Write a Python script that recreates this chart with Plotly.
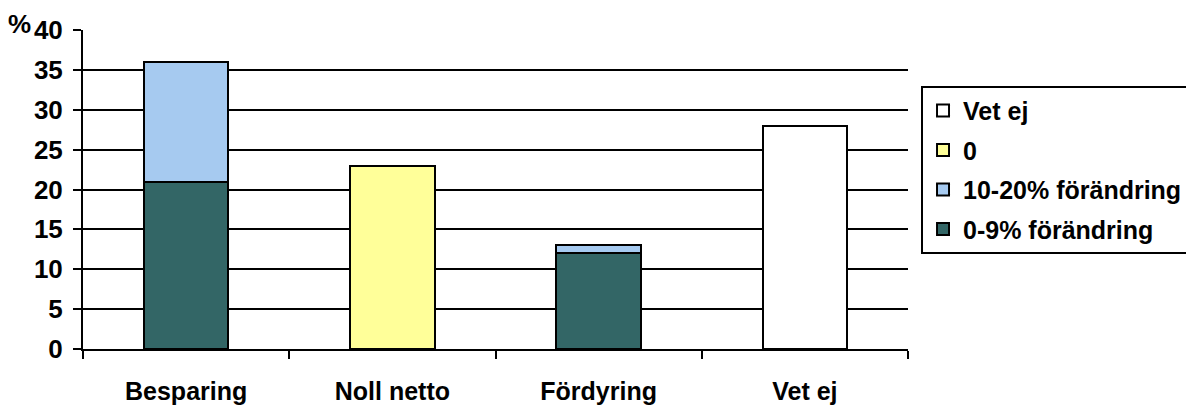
import plotly.graph_objects as go

categories = ["Besparing", "Noll netto", "Fördyring", "Vet ej"]
s_0_9 = [21, None, 12, None]
s_10_20 = [15, None, 1, None]
s_noll = [None, 23, None, None]
s_vetej = [None, None, None, 28]
y_ticks = [0, 5, 10, 15, 20, 25, 30, 35, 40]

series = [
    ("0-9% förändring", s_0_9, "#336666", 4),
    ("10-20% förändring", s_10_20, "#A6CAF0", 3),
    ("0", s_noll, "#FFFF99", 2),
    ("Vet ej", s_vetej, "#FFFFFF", 1),
]

fig = go.Figure()
for name, vals, col, rank in series:
    fig.add_trace(go.Bar(
        x=categories, y=vals, name=name, legendgroup=name, legendrank=rank,
        marker=dict(color=col, line=dict(color="black", width=2)),
    ))

font_family = "Liberation Sans, Arial, sans-serif"
fig.update_layout(
    barmode="stack",
    bargap=0.59,
    width=1186, height=407,
    margin=dict(l=83, r=278, t=30, b=58, autoexpand=False),
    plot_bgcolor="white", paper_bgcolor="white",
    font=dict(family=font_family, size=25, color="black"),
    showlegend=True,
    legend=dict(
        x=1.0158, xanchor="left", y=0.825, yanchor="top",
        traceorder="grouped", tracegroupgap=4, itemwidth=30,
        bordercolor="black", borderwidth=2,
        font=dict(family=font_family, size=25, color="black", weight="bold"),
    ),
    xaxis=dict(
        showline=True, linecolor="black", linewidth=2,
        ticks="outside", tickson="boundaries", ticklen=8, tickwidth=2, tickcolor="black",
        tickfont=dict(size=25, weight="bold"),
        ticklabelstandoff=19,
    ),
    yaxis=dict(
        range=[0, 40], tickvals=y_ticks,
        showline=True, linecolor="black", linewidth=2,
        showgrid=True, gridcolor="black", gridwidth=2,
        ticks="outside", ticklen=8, tickwidth=2, tickcolor="black",
        tickfont=dict(size=26, weight="bold"),
        ticklabelstandoff=5,
        zeroline=False,
    ),
    annotations=[dict(
        text="%", x=0, xref="paper", xanchor="right", xshift=-50,
        y=40, yref="y", yanchor="bottom", yshift=-11,
        showarrow=False, font=dict(size=26, weight="bold"),
    )],
)

fig.write_html("out.html")
